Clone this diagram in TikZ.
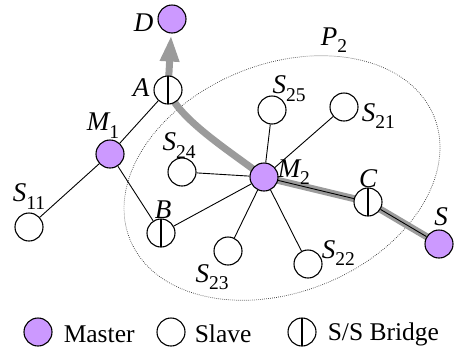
\documentclass[tikz,border=0pt]{standalone}
\usepackage{fontspec}
\setmainfont{Liberation Serif}
\usetikzlibrary{positioning,arrows.meta,backgrounds}

\definecolor{masterfill}{RGB}{204,153,255}
\definecolor{routegray}{RGB}{155,155,155}

% node name with lowered upright index
\newcommand{\nd}[2]{#1\raisebox{-0.27em}{\fontsize{19.5}{19.5}\selectfont\upshape #2}}

\tikzset{
  master/.style={circle, draw, fill=masterfill, minimum size=28pt, inner sep=0pt, line width=1.1pt},
  slave/.style={circle, draw, fill=white, minimum size=28pt, inner sep=0pt, line width=1.1pt},
  bridge/.style={slave, path picture={\draw[line width=1.1pt] (path picture bounding box.north) -- (path picture bounding box.south);}},
  lbl/.style={inner sep=0pt, font=\fontsize{27}{27}\selectfont\itshape},
  txt/.style={inner sep=0pt, font=\fontsize{25.5}{26}\selectfont},
  link/.style={line width=0.9pt},
  route/.style={line width=7pt, routegray, line join=round},
  piconet/.style={line width=0.7pt, black!80, dash pattern=on 0.7pt off 1.3pt}
}

\begin{document}
\begin{tikzpicture}[x=1pt, y=-1pt]
  \useasboundingbox (0,0) rectangle (457,354);

  % Devices
  \node[master] (D)   at (172,19)  {};
  \node[bridge] (A)   at (168,90)  {};
  \node[master] (M1)  at (110,154) {};
  \node[slave]  (S11) at (29,227)  {};
  \node[bridge] (B)   at (161,233) {};
  \node[slave]  (S24) at (182,172) {};
  \node[master] (M2)  at (264,177) {};
  \node[slave]  (S25) at (272,110) {};
  \node[slave]  (S21) at (344,107) {};
  \node[bridge] (C)   at (368,202) {};
  \node[master] (S)   at (439,244) {};
  \node[slave]  (S22) at (308,264) {};
  \node[slave]  (S23) at (228,251) {};

  % Device names
  \node[lbl, left=4pt of D, yshift=-4pt] (Dlbl) {D};
  \node[lbl, left=4pt of A, yshift=2pt] (Albl) {A};
  \node[lbl, above=1pt of M1, xshift=-7pt] (M1lbl) {\nd{M}{1}};
  \node[lbl, above=3pt of S11] (S11lbl) {\nd{S}{11}};
  \node[lbl, above=0pt of B, xshift=2pt] (Blbl) {B};
  \node[lbl, above=-1pt of S24, xshift=-3pt] (S24lbl) {\nd{S}{24}};
  \node[lbl, above=-6pt of S25, xshift=17pt] (S25lbl) {\nd{S}{25}};
  \node[lbl, right=3pt of S21, yshift=-9pt] (S21lbl) {\nd{S}{21}};
  \node[lbl, right=-1pt of M2, yshift=5pt] (M2lbl) {\nd{M}{2}};
  \node[lbl, above=0pt of C] (Clbl) {C};
  \node[lbl, above=3pt of S, xshift=2pt] (Slbl) {S};
  \node[lbl, right=-1pt of S22, yshift=11pt] (S22lbl) {\nd{S}{22}};
  \node[lbl, below=-1pt of S23, xshift=-16pt] (S23lbl) {\nd{S}{23}};
  \node[lbl] (P2lbl) at (334,40) {\nd{P}{2}};

  % Legend
  \node[master] (keyM) at (38,332) {};
  \node[txt, right=11pt of keyM, yshift=-2pt] (keyMt) {Master};
  \node[slave] (keyS) at (171,332) {};
  \node[txt, right=9pt of keyS, yshift=-2pt] (keySt) {Slave};
  \node[bridge] (keyB) at (302,332) {};
  \node[txt, right=11pt of keyB, yshift=-2pt] (keyBt) {S/S Bridge};

  \begin{pgfonlayer}{background}
    % Piconet P2
    \draw[piconet, rotate around={22:(282,178)}] (282,178) ellipse [x radius=164, y radius=114];

    % Route from S to D
    \draw[route, -{Triangle[width=18pt,length=26pt]}, shorten >=2pt]
      (S.center) -- (C.center) -- (M2.center)
      .. controls (225,148) and (178,118) .. (A.center) -- (D);

    % Links
    \draw[link] (M1) -- (A);
    \draw[link] (M1) -- (S11);
    \draw[link] (M1) -- (B);
    \draw[link] (M2) -- (S25);
    \draw[link] (M2) -- (S21);
    \draw[link] (M2) -- (S24);
    \draw[link] (M2) -- (B);
    \draw[link] (M2) -- (S23);
    \draw[link] (M2) -- (S22);
    \draw[link] (M2) -- (C);
    \draw[link] (C) -- (S);
  \end{pgfonlayer}
\end{tikzpicture}
\end{document}
